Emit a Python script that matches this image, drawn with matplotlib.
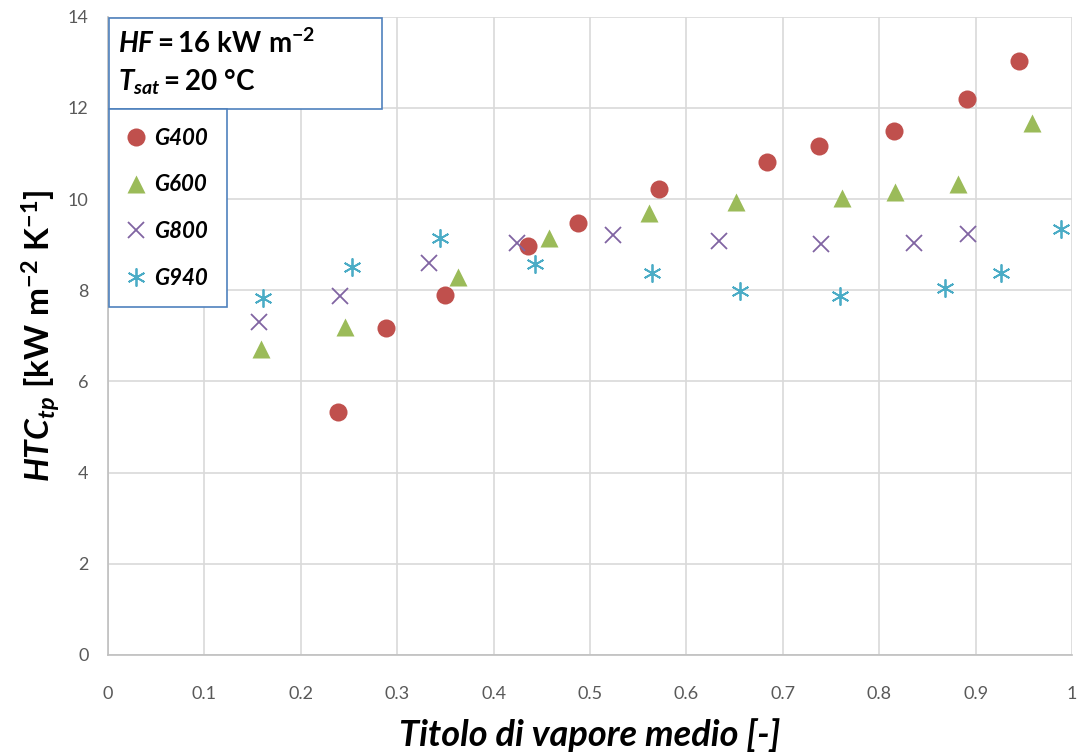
import matplotlib
matplotlib.use("Agg")
import matplotlib.pyplot as plt
from matplotlib.patches import Rectangle

plt.rcParams['font.family'] = ['Lato', 'DejaVu Sans']
plt.rcParams['mathtext.fontset'] = 'custom'
plt.rcParams['mathtext.rm'] = 'Lato'
plt.rcParams['mathtext.bf'] = 'Lato:bold'
plt.rcParams['mathtext.it'] = 'Lato:italic'
plt.rcParams['mathtext.bfit'] = 'Lato:bold:italic'

# vapour quality / heat transfer coefficient for each mass flux
x_g400 = [0.239, 0.288, 0.350, 0.436, 0.487, 0.572, 0.683, 0.737, 0.815, 0.891, 0.945]
htc_g400 = [5.34, 7.18, 7.89, 8.97, 9.48, 10.23, 10.81, 11.17, 11.49, 12.20, 13.03]

x_g600 = [0.159, 0.246, 0.363, 0.457, 0.561, 0.651, 0.761, 0.816, 0.882, 0.958]
htc_g600 = [6.71, 7.19, 8.30, 9.14, 9.70, 9.94, 10.03, 10.15, 10.34, 11.66]

x_g800 = [0.157, 0.241, 0.333, 0.424, 0.524, 0.634, 0.739, 0.836, 0.892]
htc_g800 = [7.31, 7.87, 8.59, 9.04, 9.21, 9.09, 9.01, 9.04, 9.23]

x_g940 = [0.161, 0.253, 0.344, 0.443, 0.564, 0.656, 0.759, 0.868, 0.926, 0.988]
htc_g940 = [7.84, 8.52, 9.14, 8.57, 8.37, 7.99, 7.88, 8.04, 8.37, 9.34]

fig = plt.figure(figsize=(10.83, 7.55), dpi=100)
ax = fig.add_axes([0.0997, 0.1325, 0.8903, 0.8452])

ax.plot(x_g400, htc_g400, 'o', ms=13, color='#C0504D', mec='none', label='G400', zorder=3)
ax.plot(x_g600, htc_g600, '^', ms=13, color='#9BBB59', mec='none', label='G600', zorder=3)
ax.plot(x_g800, htc_g800, 'x', ms=12, color='#8064A2', mew=1.3, label='G800', zorder=3)
ax.plot(x_g940, htc_g940, marker=(6, 2, 0), ls='none', ms=13, color='#4BACC6', mew=1.3,
        label='G940', zorder=3)

ax.set_xlim(0, 1)
ax.set_ylim(0, 14)
ax.set_xticks([i / 10 for i in range(11)])
ax.set_xticklabels(['0', '0.1', '0.2', '0.3', '0.4', '0.5', '0.6', '0.7', '0.8', '0.9', '1'])
ax.set_yticks(range(0, 15, 2))
ax.tick_params(length=0, labelsize=13, labelcolor='#595959')
ax.tick_params(axis='x', pad=22)
ax.tick_params(axis='y', pad=14)

ax.set_axisbelow(True)
ax.grid(True, color='#D9D9D9', lw=1.2)
for s in ['top', 'right']:
    ax.spines[s].set_visible(False)
for s in ['left', 'bottom']:
    ax.spines[s].set_color('#BFBFBF')
    ax.spines[s].set_linewidth(1.2)

ax.set_xlabel('Titolo di vapore medio [-]', fontsize=26, fontweight='bold', style='italic',
              labelpad=12)
ax.set_ylabel(r'$\mathbfit{HTC}_{\mathbfit{tp}}\mathbf{\ [kW\ m^{-2}\ K^{-1}]}$', fontsize=24,
              labelpad=4)

# box with test conditions
ax.add_patch(Rectangle((0.001, 0.8555), 0.283, 0.1432, transform=ax.transAxes, fill=True,
                       fc='white', ec='#4F81BD', lw=1.2, zorder=5, clip_on=False))
ax.text(0.010, 0.958, r'$\mathbfit{HF}\mathbf{=16\ kW\ m^{-2}}$', transform=ax.transAxes,
        fontsize=20, va='center', ha='left', zorder=6)
ax.text(0.010, 0.897, r'$\mathbfit{T_{sat}}\mathbf{=20\ °C}$', transform=ax.transAxes,
        fontsize=20, va='center', ha='left', zorder=6)

leg = ax.legend(loc='upper left', bbox_to_anchor=(0.001, 0.8555), borderaxespad=0,
                fancybox=False, framealpha=1, edgecolor='#4F81BD', handlelength=0.7,
                handletextpad=0.5, labelspacing=1.15, borderpad=0.85,
                prop={'size': 16, 'weight': 'bold', 'style': 'italic'})
leg.get_frame().set_linewidth(1.2)
leg.set_zorder(5)

fig.savefig('out.png', dpi=100)
